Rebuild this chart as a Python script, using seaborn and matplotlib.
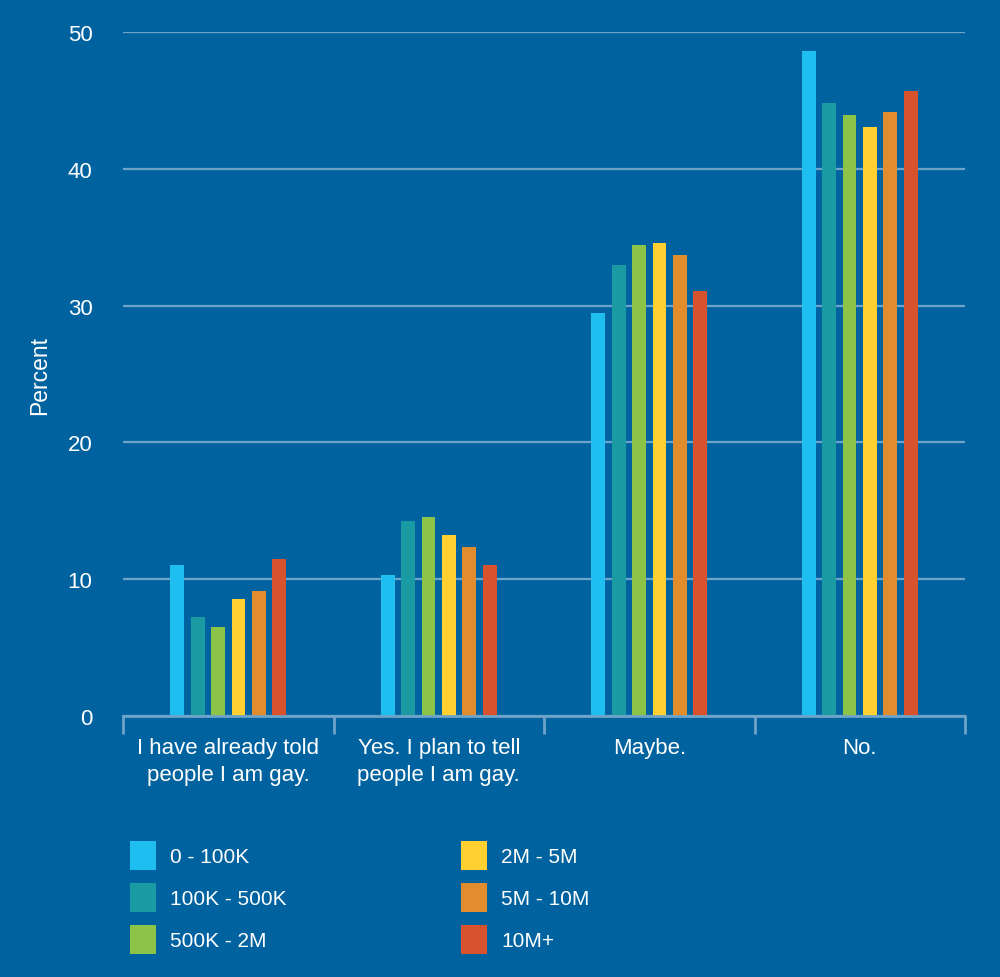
import seaborn as sns
import matplotlib.pyplot as plt
import pandas as pd

plt.switch_backend("Agg")

# ----------------------------
# Data
# ----------------------------
categories = [
    "I have already told\npeople I am gay.",
    "Yes. I plan to tell\npeople I am gay.",
    "Maybe.",
    "No.",
]
groups = ["0 - 100K", "100K - 500K", "500K - 2M", "2M - 5M", "5M - 10M", "10M+"]
values = {
    "0 - 100K":    [11.0, 10.3, 29.5, 48.6],
    "100K - 500K": [7.2, 14.25, 33.0, 44.8],
    "500K - 2M":   [6.5, 14.55, 34.45, 43.95],
    "2M - 5M":     [8.55, 13.25, 34.6, 43.05],
    "5M - 10M":    [9.15, 12.35, 33.7, 44.2],
    "10M+":        [11.5, 11.05, 31.05, 45.7],
}
colors = ["#1fbef0", "#1a9aa3", "#8dc346", "#ffd02f", "#e18d2e", "#d9522e"]
yticks = [0, 10, 20, 30, 40, 50]

bg = "#0063a0"
grid_col = "#6fa3c8"

rows = []
for g in groups:
    for c, v in zip(categories, values[g]):
        rows.append({"category": c, "group": g, "percent": v})
df = pd.DataFrame(rows)

sns.set_theme(style="white")
plt.rcParams["font.family"] = ["Liberation Sans", "DejaVu Sans"]

fig = plt.figure(figsize=(10, 9.78), dpi=100, facecolor=bg)
ax = fig.add_axes([0.123, 0.267, 0.842, 0.699])
ax.set_facecolor(bg)

sns.barplot(
    data=df, x="category", y="percent", hue="group",
    order=categories, hue_order=groups, palette=colors,
    width=0.58, gap=0.32, saturation=1, linewidth=0,
    ax=ax, legend=True,
)

# ----------------------------
# Axes styling
# ----------------------------
ax.set_ylim(0, 50)
ax.set_xlim(-0.5, len(categories) - 0.5)
ax.set_yticks(yticks)
ax.yaxis.grid(True, color=grid_col, linewidth=1.6)
ax.set_axisbelow(True)
for s in ["top", "right", "left"]:
    ax.spines[s].set_visible(False)
ax.spines["bottom"].set_color(grid_col)
ax.spines["bottom"].set_linewidth(2)

ax.tick_params(axis="y", left=False, length=0, pad=22,
               labelsize=16, labelcolor="white")
ax.tick_params(axis="x", which="major", bottom=False, length=0, pad=15,
               labelsize=16, labelcolor="white")
for lab in ax.get_xticklabels():
    lab.set_linespacing(1.4)
ax.set_xticks([i - 0.5 for i in range(len(categories) + 1)], minor=True)
ax.tick_params(axis="x", which="minor", bottom=True, length=13, width=2,
               color=grid_col)

ax.set_xlabel("")
ax.set_ylabel("Percent", color="white", fontsize=16.5)
ax.yaxis.set_label_coords(-0.085, 0.5)

# ----------------------------
# Legend below the plot
# ----------------------------
handles, labels = ax.get_legend_handles_labels()
ax.get_legend().remove()
leg = fig.legend(
    handles, labels, ncol=2, loc="upper left",
    bbox_to_anchor=(0.122, 0.148), frameon=False,
    fontsize=15, labelcolor="white",
    handlelength=1.25, handleheight=1.8, handletextpad=0.67,
    columnspacing=8.35, labelspacing=0.6, borderaxespad=0,
)

fig.savefig("out.png", dpi=100, facecolor=bg)
plt.close(fig)
